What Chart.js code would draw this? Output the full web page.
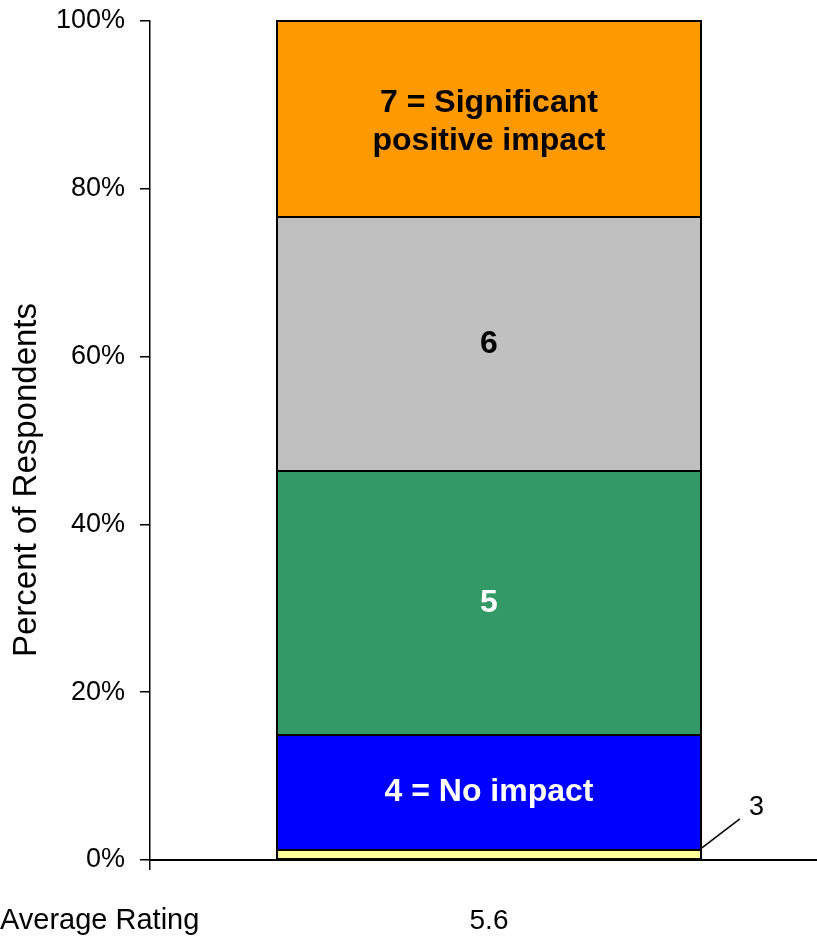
<!DOCTYPE html>
<html>
<head>
<meta charset="utf-8">
<script src="https://cdn.jsdelivr.net/npm/chart.js@4.4.1/dist/chart.umd.min.js"></script>
<style>
  html, body { margin: 0; padding: 0; background: #fff; }
  #wrap { width: 817px; height: 936px; overflow: hidden; position: relative; }
  canvas { display: block; }
</style>
</head>
<body>
<div id="wrap"><canvas id="c" width="840" height="936"></canvas></div>
<script>
// Rating distribution (percent of respondents), stacked bottom to top
const categories = ['5.6'];
const ratingNames = ['3', '4 = No impact', '5', '6', '7 = Significant positive impact'];
const ratingValues = [1.2, 13.7, 31.5, 30.2, 23.4];
const segmentLabels = [[], ['4 = No impact'], ['5'], ['6'], ['7 = Significant', 'positive impact']];
const segmentLabelColors = ['#000000', '#ffffff', '#ffffff', '#000000', '#000000'];
const segmentColors = ['#FFFF99', '#0000FF', '#339966', '#C0C0C0', '#FF9900'];
const yTicks = [0, 20, 40, 60, 80, 100];
const yTitle = 'Percent of Respondents';
const rowTitle = 'Average Rating';
const calloutLabel = '3';

const FONT = '"Liberation Sans", Arial, Helvetica, sans-serif';

const datasets = ratingValues.map((v, i) => ({
  label: ratingNames[i],
  data: [v],
  backgroundColor: segmentColors[i],
  borderWidth: 0,
  categoryPercentage: 1,
  barPercentage: 0.625
}));

const annotate = {
  id: 'annotate',
  afterDatasetsDraw(chart) {
    const ctx = chart.ctx;
    ctx.save();
    // outline every segment with a single shared 2px edge
    ctx.strokeStyle = '#000000';
    ctx.lineWidth = 2;
    chart.data.datasets.forEach((ds, i) => {
      const bar = chart.getDatasetMeta(i).data[0];
      const x0 = Math.round(bar.x - bar.width / 2);
      const x1 = Math.round(bar.x + bar.width / 2);
      ctx.strokeRect(x0, Math.round(bar.y), x1 - x0, Math.round(bar.base) - Math.round(bar.y));
    });
    // labels inside each segment
    chart.data.datasets.forEach((ds, i) => {
      const bar = chart.getDatasetMeta(i).data[0];
      const lines = segmentLabels[i];
      if (!lines.length) return;
      const cy = (bar.y + bar.base) / 2 + (lines.length > 1 ? 3 : 0);
      ctx.font = 'bold 32px ' + FONT;
      ctx.fillStyle = segmentLabelColors[i];
      ctx.textAlign = 'center';
      ctx.textBaseline = 'middle';
      const lh = 38;
      lines.forEach((t, k) => {
        ctx.fillText(t, bar.x, cy + (k - (lines.length - 1) / 2) * lh);
      });
    });
    // leader line and label for the thin bottom segment
    const first = chart.getDatasetMeta(0).data[0];
    const right = first.x + first.width / 2;
    ctx.strokeStyle = '#000000';
    ctx.lineWidth = 1.5;
    ctx.beginPath();
    ctx.moveTo(right + 1, first.y - 2);
    ctx.lineTo(right + 39, first.y - 31);
    ctx.stroke();
    ctx.font = '27px ' + FONT;
    ctx.fillStyle = '#000000';
    ctx.textAlign = 'left';
    ctx.textBaseline = 'middle';
    ctx.fillText(calloutLabel, right + 48, first.y - 42);
    // row title beside the category label
    ctx.textAlign = 'left';
    ctx.font = '29px ' + FONT;
    ctx.fillText(rowTitle, 0, 921);
    // vertical axis title
    ctx.translate(36, 480);
    ctx.rotate(-Math.PI / 2);
    ctx.textAlign = 'center';
    ctx.textBaseline = 'alphabetic';
    ctx.font = '33px ' + FONT;
    ctx.fillText(yTitle, 0, 0);
    ctx.restore();
  }
};

new Chart(document.getElementById('c'), {
  type: 'bar',
  data: { labels: categories, datasets },
  options: {
    responsive: false,
    animation: false,
    devicePixelRatio: 1,
    layout: { padding: { top: 21, right: 12, left: 0, bottom: 0 } },
    plugins: { legend: { display: false }, tooltip: { enabled: false }, title: { display: false } },
    scales: {
      x: {
        stacked: true,
        offset: true,
        grid: { display: true, drawOnChartArea: false, drawTicks: true, tickLength: 10, color: '#000000', lineWidth: 1.5, offset: true },
        border: { display: true, color: '#000000', width: 2 },
        ticks: { color: '#000000', font: { family: FONT, size: 28 }, padding: 34, maxRotation: 0 },
        afterFit(scale) {
          scale.height = 76;
          scale.paddingLeft = 0;
          scale.paddingRight = 0;
        }
      },
      y: {
        stacked: true,
        min: 0,
        max: 100,
        afterBuildTicks(scale) { scale.ticks = yTicks.map(v => ({ value: v })); },
        grid: { display: true, drawOnChartArea: false, drawTicks: true, tickLength: 10, color: '#000000', lineWidth: 1.5 },
        border: { display: true, color: '#000000', width: 1.5 },
        ticks: { color: '#000000', font: { family: FONT, size: 27 }, padding: 15, callback: v => v + '%' },
        afterFit(scale) {
          scale.width = 150;
          scale.paddingTop = 0;
          scale.paddingBottom = 0;
        }
      }
    }
  },
  plugins: [annotate]
});
</script>
</body>
</html>
